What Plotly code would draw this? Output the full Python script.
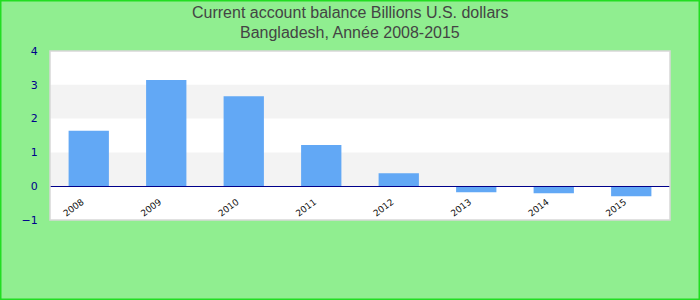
import plotly.graph_objects as go

years = ["2008", "2009", "2010", "2011", "2012", "2013", "2014", "2015"]
values = [1.64, 3.14, 2.66, 1.22, 0.38, -0.18, -0.21, -0.30]
y_ticks = [-1, 0, 1, 2, 3, 4]
title_lines = ["Current account balance Billions U.S. dollars", "Bangladesh, Année 2008-2015"]

W, H = 700, 300
ml, mr, mt, mb = 50, 30, 51, 80
pw, ph = W - ml - mr, H - mt - mb

fig = go.Figure()
fig.add_trace(go.Bar(x=years, y=values, marker_color="#62a8f5", width=0.52,
                     marker_line_width=0))

shapes = []
for lo, hi in [(2, 3), (0, 1)]:
    shapes.append(dict(type="rect", xref="paper", yref="y", x0=0, x1=1, y0=lo, y1=hi,
                       fillcolor="#f3f3f3", line_width=0, layer="below"))
shapes.append(dict(type="rect", xref="paper", yref="paper", x0=0, x1=1, y0=0, y1=1,
                   line=dict(color="#d8d8d8", width=1.5), layer="above"))
shapes.append(dict(type="rect", xref="paper", yref="paper",
                   x0=-ml / pw + 0.75 / pw, x1=1 + mr / pw - 0.75 / pw,
                   y0=-mb / ph + 0.75 / ph, y1=1 + mt / ph - 0.75 / ph,
                   line=dict(color="#22dd22", width=1.5), layer="below"))

annotations = []
for i, (txt, ypix) in enumerate(zip(title_lines, [13, 33])):
    annotations.append(dict(text=txt, xref="paper", yref="paper",
                            x=(W / 2 - ml) / pw, y=1 + (mt - ypix) / ph,
                            xanchor="center", yanchor="middle", showarrow=False,
                            font=dict(family="Liberation Sans, Arial", size=16, color="#444444")))

fig.update_layout(
    width=W, height=H,
    margin=dict(l=ml, r=mr, t=mt, b=mb),
    paper_bgcolor="#90ee90", plot_bgcolor="white",
    showlegend=False,
    shapes=shapes,
    annotations=annotations,
)
fig.update_xaxes(showgrid=False, tickangle=-37, anchor="free", position=0.2,
                 ticks="outside", ticklen=6, tickcolor="rgba(0,0,0,0)", ticklabelshift=-7,
                 tickfont=dict(family="DejaVu Sans", size=9, color="#111111"),
                 showline=True, linecolor="#00008b", linewidth=1.2,
                 zeroline=False)
fig.update_yaxes(range=[-1, 4], tickvals=y_ticks, showgrid=False, zeroline=False,
                 ticks="outside", ticklen=9, tickcolor="rgba(0,0,0,0)",
                 tickfont=dict(family="DejaVu Sans", size=11, color="#00008b"),
                 showline=False)

fig.write_html("out.html")
